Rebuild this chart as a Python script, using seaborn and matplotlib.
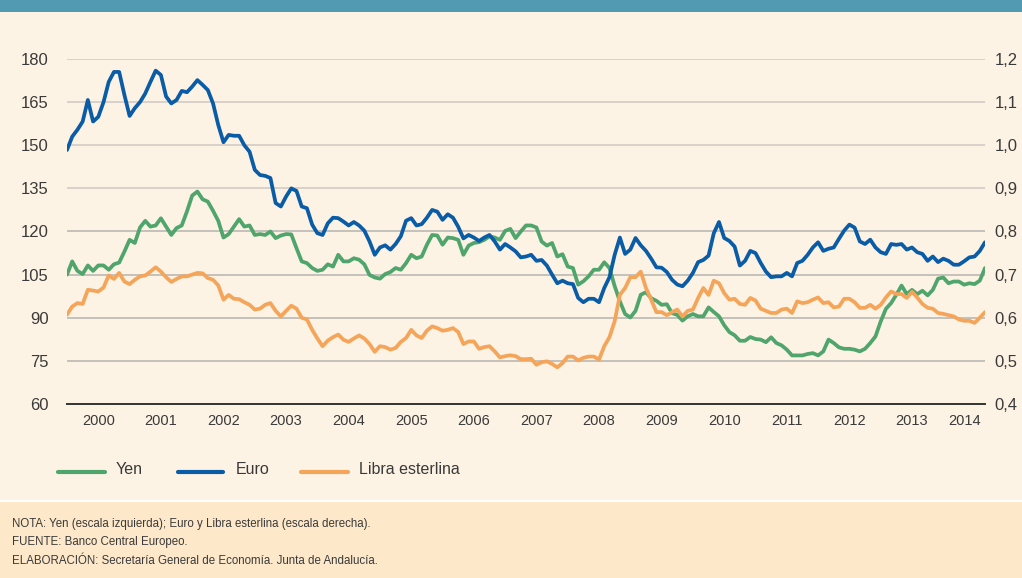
import matplotlib.pyplot as plt
import numpy as np
import pandas as pd
import seaborn as sns
from matplotlib.lines import Line2D
from matplotlib.patches import Rectangle

sns.set_style("white")
plt.rcParams["font.family"] = ["Liberation Sans", "DejaVu Sans"]

# datos mensuales ene-2000 .. sep-2014 (unidades por dolar)
YEN = [
    105, 109.6, 106.3, 105.2, 108.2, 106.3, 108.2, 108.2, 106.7, 108.6, 109.2, 113.0,
    117.1, 116, 121.4, 123.7, 121.7, 122.1, 124.6, 121.7, 118.8, 121.2, 122.1, 127,
    132.5, 133.9, 131.2, 130.4, 127.2, 123.7, 117.9, 119.1, 121.7, 124.3, 121.7, 122.1,
    118.8, 119.1, 118.8, 120, 117.7, 118.6, 119.1, 119, 114.2, 109.6, 109.0, 107.3,
    106.3, 106.7, 108.6, 107.8, 111.9, 109.6, 109.6, 110.7, 110.2, 108.6, 104.9, 104.0,
    103.6, 105.2, 105.9, 107.3, 106.7, 109.0, 111.9, 110.7, 111.3, 115.4, 118.8, 118.6,
    115.4, 117.9, 117.7, 117.1, 111.9, 115.1, 116.0, 116.3, 117.1, 118.3, 117.9, 117.1,
    120.2, 120.9, 117.7, 120, 122.1, 122.1, 121.4, 116.5, 115.1, 116.0, 111.3, 112.1,
    107.8, 107.3, 101.5, 102.7, 104.4, 106.7, 106.7, 109.3, 107.3, 101.0, 95.7, 91.3,
    90.1, 92.4, 98.0, 98.9, 96.8, 95.9, 94.5, 94.7, 91.6, 91.0, 89.0, 90.5,
    91.3, 90.5, 90.5, 93.6, 92.0, 90.5, 87.4, 85.0, 83.9, 82.0, 82.0, 83.3,
    82.6, 82.4, 81.5, 83.2, 81.2, 80.4, 78.9, 76.9, 76.9, 76.9, 77.4, 77.7,
    76.9, 78.3, 82.4, 81.2, 79.7, 79.2, 79.2, 78.9, 78.3, 79.2, 81.2, 83.5,
    88.7, 93.1, 95.1, 98.0, 101.2, 98.2, 99.7, 98.2, 99.4, 97.8, 99.7, 103.6,
    104.0, 102.0, 102.6, 102.6, 101.5, 102.0, 101.7, 102.9, 107.3,
]
EURO = [
    0.989, 1.02, 1.036, 1.055, 1.105, 1.055, 1.066, 1.10, 1.147, 1.17, 1.17, 1.117,
    1.068, 1.086, 1.10, 1.12, 1.147, 1.173, 1.163, 1.113, 1.097, 1.105, 1.126, 1.123,
    1.136, 1.151, 1.14, 1.128, 1.097, 1.047, 1.007, 1.024, 1.022, 1.022, 1.0, 0.985,
    0.943, 0.931, 0.929, 0.924, 0.866, 0.858, 0.881, 0.90, 0.894, 0.858, 0.854, 0.816,
    0.796, 0.792, 0.819, 0.832, 0.831, 0.823, 0.814, 0.822, 0.814, 0.802, 0.777, 0.746,
    0.763, 0.768, 0.758, 0.771, 0.789, 0.825, 0.831, 0.814, 0.817, 0.832, 0.850, 0.846,
    0.827, 0.840, 0.832, 0.811, 0.784, 0.792, 0.786, 0.778, 0.786, 0.792, 0.777, 0.758,
    0.771, 0.763, 0.754, 0.740, 0.742, 0.746, 0.732, 0.734, 0.721, 0.70, 0.680, 0.686,
    0.680, 0.678, 0.646, 0.636, 0.644, 0.644, 0.636, 0.669, 0.694, 0.746, 0.786, 0.748,
    0.758, 0.785, 0.768, 0.755, 0.737, 0.717, 0.716, 0.706, 0.688, 0.677, 0.673, 0.686,
    0.704, 0.729, 0.734, 0.744, 0.796, 0.822, 0.785, 0.778, 0.765, 0.721, 0.732, 0.755,
    0.750, 0.727, 0.707, 0.694, 0.696, 0.696, 0.704, 0.696, 0.727, 0.732, 0.746, 0.763,
    0.775, 0.755, 0.760, 0.763, 0.783, 0.802, 0.816, 0.809, 0.777, 0.771, 0.781, 0.763,
    0.752, 0.748, 0.771, 0.769, 0.771, 0.758, 0.763, 0.752, 0.748, 0.732, 0.742, 0.729,
    0.737, 0.732, 0.723, 0.723, 0.731, 0.740, 0.742, 0.755, 0.775,
]
LIBRA = [
    0.607, 0.626, 0.634, 0.632, 0.665, 0.663, 0.661, 0.670, 0.698, 0.690, 0.704, 0.684,
    0.678, 0.688, 0.696, 0.698, 0.707, 0.717, 0.707, 0.694, 0.683, 0.690, 0.696, 0.696,
    0.700, 0.704, 0.703, 0.692, 0.688, 0.675, 0.642, 0.653, 0.644, 0.643, 0.636, 0.630,
    0.619, 0.621, 0.630, 0.634, 0.616, 0.603, 0.616, 0.628, 0.621, 0.600, 0.596, 0.572,
    0.552, 0.534, 0.547, 0.555, 0.561, 0.549, 0.544, 0.552, 0.559, 0.552, 0.539, 0.521,
    0.534, 0.532, 0.526, 0.530, 0.544, 0.553, 0.572, 0.559, 0.553, 0.570, 0.580, 0.576,
    0.570, 0.572, 0.576, 0.567, 0.539, 0.545, 0.545, 0.528, 0.532, 0.534, 0.522, 0.508,
    0.511, 0.513, 0.511, 0.504, 0.504, 0.505, 0.491, 0.497, 0.499, 0.493, 0.485, 0.495,
    0.510, 0.510, 0.501, 0.507, 0.510, 0.510, 0.503, 0.534, 0.555, 0.592, 0.653, 0.669,
    0.694, 0.694, 0.707, 0.669, 0.642, 0.613, 0.613, 0.606, 0.613, 0.619, 0.603, 0.616,
    0.619, 0.646, 0.669, 0.653, 0.686, 0.680, 0.657, 0.642, 0.644, 0.632, 0.630, 0.646,
    0.640, 0.621, 0.616, 0.611, 0.611, 0.619, 0.621, 0.611, 0.638, 0.634, 0.636, 0.642,
    0.647, 0.634, 0.636, 0.624, 0.626, 0.644, 0.644, 0.636, 0.623, 0.623, 0.630, 0.621,
    0.630, 0.647, 0.661, 0.655, 0.655, 0.646, 0.660, 0.647, 0.632, 0.623, 0.621, 0.611,
    0.609, 0.606, 0.603, 0.596, 0.593, 0.593, 0.588, 0.600, 0.613,
]
YEARS = list(range(2000, 2015))
LEFT_TICKS = [60, 75, 90, 105, 120, 135, 150, 165, 180]
RIGHT_TICKS = [0.4, 0.5, 0.6, 0.7, 0.8, 0.9, 1.0, 1.1, 1.2]
RIGHT_LABELS = ["0,4", "0,5", "0,6", "0,7", "0,8", "0,9", "1,0", "1,1", "1,2"]
NOTES = [
    "NOTA: Yen (escala izquierda); Euro y Libra esterlina (escala derecha).",
    "FUENTE: Banco Central Europeo.",
    "ELABORACIÓN: Secretaría General de Economía. Junta de Andalucía.",
]

BG = "#fdf3e4"
TEAL = "#529ab2"
PEACH = "#fde8c9"
C_YEN = "#4fa56c"
C_EURO = "#0a5ca6"
C_LIBRA = "#f5a55a"
TXT = "#3a3a3a"
W, H = 1022, 578

t = 2000 + np.arange(len(EURO)) / 12
df = pd.DataFrame({"t": t, "Yen": YEN, "Euro": EURO, "Libra": LIBRA})

fig = plt.figure(figsize=(W / 100, H / 100), dpi=100, facecolor=BG)
fig.add_artist(Rectangle((0, 1 - 12 / H), 1, 12 / H, transform=fig.transFigure,
                         color=TEAL, lw=0))
fig.add_artist(Rectangle((0, 0), 1, 76 / H, transform=fig.transFigure,
                         color=PEACH, lw=0))
fig.add_artist(Rectangle((0, 76 / H), 1, 2 / H, transform=fig.transFigure,
                         color="white", lw=0))

ax = fig.add_axes([67 / W, 174 / H, 918 / W, 345 / H])
ax.set_facecolor("none")
ax2 = ax.twinx()

# lineas de rejilla
for v in LEFT_TICKS[1:]:
    ax.axhline(v, color="#d3ccc5" if v > 125 else "#bab7b3", lw=1.2, zorder=0)

sns.lineplot(data=df, x="t", y="Yen", ax=ax, color=C_YEN, lw=2.7)
sns.lineplot(data=df, x="t", y="Euro", ax=ax2, color=C_EURO, lw=2.7)
sns.lineplot(data=df, x="t", y="Libra", ax=ax2, color=C_LIBRA, lw=2.7)

x_end = t[-1]
ax.set_xlim(2000, x_end)
ax.set_ylim(60, 180)
ax2.set_ylim(0.4, 1.2)
ax.set_xlabel("")
ax.set_ylabel("")
ax2.set_ylabel("")

for s in ["top", "left", "right"]:
    ax.spines[s].set_visible(False)
for s in ax2.spines.values():
    s.set_visible(False)
ax.spines["bottom"].set_color("#333333")
ax.spines["bottom"].set_linewidth(1.4)

ax.set_xticks(YEARS[1:])
ax.set_xticklabels([])
ax.tick_params(axis="x", which="major", length=5, width=1.3, color="#333333",
               direction="out")
centers = [y + 0.5 for y in YEARS[:-1]] + [(YEARS[-1] + x_end) / 2]
ax.set_xticks(centers, minor=True)
ax.set_xticklabels([str(y) for y in YEARS], minor=True)
ax.tick_params(axis="x", which="minor", length=0, pad=7, labelsize=10.5,
               labelcolor=TXT)

ax.set_yticks(LEFT_TICKS)
ax.set_yticklabels([str(v) for v in LEFT_TICKS])
ax.tick_params(axis="y", length=0, pad=13, labelsize=12, labelcolor=TXT)
ax2.set_yticks(RIGHT_TICKS)
ax2.set_yticklabels(RIGHT_LABELS)
ax2.tick_params(axis="y", length=0, pad=7, labelsize=12, labelcolor=TXT)

# leyenda
ly = (H - 472) / H
for x0, x1, xt, col, lab in [(58, 105, 116, C_YEN, "Yen"),
                             (178, 223, 236, C_EURO, "Euro"),
                             (301, 348, 359, C_LIBRA, "Libra esterlina")]:
    fig.add_artist(Line2D([x0 / W, x1 / W], [ly, ly], transform=fig.transFigure,
                          color=col, lw=3, solid_capstyle="round"))
    fig.text(xt / W, (H - 474.5) / H, lab, fontsize=11.5, color=TXT,
             va="baseline", ha="left")

for i, txt in enumerate(NOTES):
    fig.text(12 / W, (H - 527 - 18.5 * i) / H, txt, fontsize=8.3, color=TXT,
             va="baseline", ha="left")

fig.savefig("out.png", dpi=100, facecolor=BG)
